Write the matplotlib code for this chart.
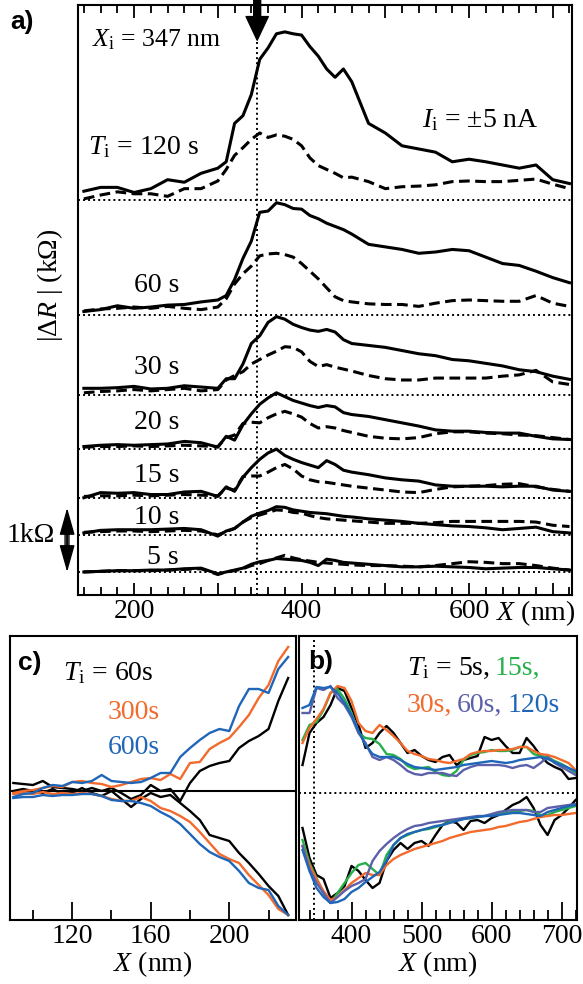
import numpy as np
import matplotlib
matplotlib.use('Agg')
import matplotlib.pyplot as plt
import matplotlib.transforms as mtransforms
from matplotlib.ticker import MultipleLocator, FixedLocator, FuncFormatter

# --- 1. DATA ---

# panel a) |dR| vs X, one solid + one dashed trace per injection time (kOhm above its baseline)
XA = [140, 160, 180, 200, 220, 240, 260, 280, 300,
      310, 320, 330, 340, 350, 360, 370, 380, 390, 400, 410, 420, 430, 440, 450, 460,
      480, 500, 520, 540, 560, 580, 600, 620, 640, 660, 680, 700, 720]

TIME_LABELS = ['5 s', '10 s', '15 s', '20 s', '30 s', '60 s', '120 s']
BASELINES = [0.0, 0.58, 1.16, 1.92, 2.77, 4.02, 5.81]

SOLID_5 = [0.0, 0.01, 0.02, 0.02, 0.03, 0.03, 0.05, 0.06, -0.03,
           0.0, 0.03, 0.06, 0.12, 0.16, 0.18, 0.21, 0.2, 0.19, 0.18, 0.15, 0.1, 0.2, 0.18, 0.15, 0.14,
           0.12, 0.1, 0.08, 0.08, 0.09, 0.08, 0.07, 0.05, 0.06, 0.07, 0.07, 0.05, 0.03]
DASH_5 = [0.0, 0.01, 0.02, 0.02, 0.02, 0.03, 0.04, 0.05, -0.04,
          0.0, 0.02, 0.05, 0.1, 0.13, 0.18, 0.22, 0.26, 0.22, 0.19, 0.17, 0.15, 0.14, 0.13, 0.12, 0.11,
          0.1, 0.1, 0.09, 0.08, 0.1, 0.13, 0.16, 0.15, 0.13, 0.13, 0.1, 0.06, 0.03]
SOLID_10 = [0.03, 0.07, 0.08, 0.08, 0.08, 0.09, 0.1, 0.08, -0.02,
            0.06, 0.1, 0.2, 0.29, 0.34, 0.38, 0.44, 0.43, 0.39, 0.37, 0.35, 0.34, 0.33, 0.31, 0.29, 0.28,
            0.25, 0.23, 0.21, 0.18, 0.16, 0.14, 0.13, 0.11, 0.08, 0.1, 0.12, 0.05, 0.03]
DASH_10 = [0.04, 0.05, 0.06, 0.06, 0.05, 0.06, 0.07, 0.06, 0.0,
           0.05, 0.1, 0.2, 0.27, 0.31, 0.35, 0.39, 0.38, 0.35, 0.34, 0.3, 0.27, 0.25, 0.24, 0.23, 0.22,
           0.2, 0.18, 0.18, 0.18, 0.19, 0.21, 0.21, 0.21, 0.21, 0.21, 0.2, 0.15, 0.13]
SOLID_15 = [0.0, 0.08, 0.07, 0.08, 0.05, 0.05, 0.09, 0.1, 0.02,
            0.17, 0.1, 0.32, 0.47, 0.6, 0.7, 0.76, 0.66, 0.6, 0.55, 0.51, 0.47, 0.58, 0.52, 0.43, 0.4,
            0.36, 0.31, 0.28, 0.26, 0.2, 0.18, 0.18, 0.18, 0.17, 0.18, 0.18, 0.12, 0.1]
DASH_15 = [0.02, 0.03, 0.03, 0.04, 0.03, 0.04, 0.05, 0.04, 0.03,
           0.15, 0.12, 0.33, 0.34, 0.34, 0.4, 0.47, 0.52, 0.45, 0.34, 0.28, 0.25, 0.24, 0.22, 0.2, 0.18,
           0.15, 0.12, 0.09, 0.08, 0.13, 0.17, 0.18, 0.19, 0.21, 0.22, 0.17, 0.13, 0.1]
SOLID_20 = [0.04, 0.06, 0.07, 0.06, 0.07, 0.08, 0.12, 0.1, 0.03,
            0.2, 0.14, 0.38, 0.55, 0.7, 0.8, 0.88, 0.82, 0.76, 0.72, 0.68, 0.65, 0.68, 0.66, 0.57, 0.54,
            0.51, 0.46, 0.41, 0.36, 0.3, 0.28, 0.28, 0.26, 0.25, 0.25, 0.2, 0.16, 0.15]
DASH_20 = [0.03, 0.04, 0.04, 0.05, 0.04, 0.05, 0.06, 0.05, 0.04,
           0.18, 0.22, 0.4, 0.42, 0.41, 0.49, 0.55, 0.59, 0.55, 0.5, 0.4, 0.33, 0.35, 0.33, 0.29, 0.26,
           0.2, 0.17, 0.16, 0.18, 0.24, 0.27, 0.27, 0.25, 0.24, 0.22, 0.21, 0.18, 0.15]
SOLID_30 = [0.1, 0.1, 0.11, 0.13, 0.09, 0.1, 0.14, 0.12, 0.1,
            0.25, 0.25, 0.48, 0.8, 0.92, 1.13, 1.22, 1.18, 1.1, 1.05, 1.01, 0.99, 1.02, 0.98, 0.86, 0.8,
            0.77, 0.74, 0.69, 0.64, 0.61, 0.55, 0.53, 0.49, 0.45, 0.39, 0.36, 0.29, 0.24]
DASH_30 = [0.03, 0.05, 0.06, 0.08, 0.06, 0.08, 0.1, 0.06, 0.08,
           0.23, 0.3, 0.36, 0.48, 0.55, 0.62, 0.68, 0.75, 0.74, 0.67, 0.52, 0.44, 0.47, 0.43, 0.4, 0.37,
           0.3, 0.25, 0.23, 0.23, 0.26, 0.26, 0.26, 0.26, 0.29, 0.31, 0.38, 0.2, 0.16]
SOLID_60 = [0.05, 0.08, 0.14, 0.1, 0.12, 0.15, 0.16, 0.2, 0.23,
            0.3, 0.55, 0.88, 1.15, 1.6, 1.62, 1.75, 1.72, 1.66, 1.65, 1.55, 1.5, 1.43, 1.38, 1.33, 1.26,
            1.1, 1.06, 1.02, 0.96, 0.98, 1.02, 1.0, 0.9, 0.8, 0.77, 0.68, 0.58, 0.5]
DASH_60 = [0.06, 0.09, 0.1, 0.12, 0.1, 0.13, 0.1, 0.08, 0.12,
           0.25, 0.48, 0.64, 0.76, 0.92, 0.95, 0.96, 0.94, 0.9, 0.8, 0.68, 0.56, 0.42, 0.28, 0.22, 0.2,
           0.17, 0.16, 0.16, 0.13, 0.18, 0.22, 0.23, 0.22, 0.21, 0.21, 0.3, 0.18, 0.13]
SOLID_120 = [0.14, 0.2, 0.2, 0.12, 0.18, 0.32, 0.28, 0.42, 0.5,
             0.6, 1.2, 1.32, 1.65, 2.2, 2.38, 2.6, 2.63, 2.6, 2.58, 2.4, 2.25, 2.05, 1.92, 2.05, 1.85,
             1.2, 1.05, 0.85, 0.8, 0.75, 0.6, 0.64, 0.6, 0.55, 0.5, 0.55, 0.32, 0.26]
DASH_120 = [0.02, 0.08, 0.13, 0.1, 0.1, 0.06, 0.18, 0.18, 0.3,
            0.48, 0.7, 0.82, 0.95, 1.05, 0.98, 1.02, 1.0, 0.95, 0.85, 0.66, 0.54, 0.48, 0.42, 0.35, 0.36,
            0.29, 0.18, 0.21, 0.22, 0.24, 0.29, 0.3, 0.29, 0.29, 0.31, 0.33, 0.25, 0.18]

SOLIDS = [SOLID_5, SOLID_10, SOLID_15, SOLID_20, SOLID_30, SOLID_60, SOLID_120]
DASHES = [DASH_5, DASH_10, DASH_15, DASH_20, DASH_30, DASH_60, DASH_120]

XI = 347  # injection position (nm)

# panel c) near the left end, T_i = 60 s, 300 s, 600 s (upper / lower branch, arb. units)
XC = [90, 95, 100, 105, 110, 115, 120, 125, 130, 135, 140, 145, 150, 155, 160,
      165, 170, 175, 180, 185, 190, 195, 200, 205, 210, 215, 220, 225, 230]
C_60_UP = [0.08, 0.07, 0.06, 0.1, 0.04, 0.03, 0.02, 0.0, 0.03, 0.0, 0.03, -0.02, -0.08, -0.04, 0.06,
           0.0, 0.02, -0.1, 0.08, 0.2, 0.25, 0.28, 0.3, 0.43, 0.5, 0.55, 0.62, 0.9, 1.13]
C_60_DN = [0.0, 0.02, 0.0, -0.02, 0.02, -0.03, -0.02, 0.03, -0.02, -0.05, 0.0, -0.08, -0.16, -0.08, -0.02,
           -0.06, -0.04, -0.12, -0.2, -0.29, -0.44, -0.47, -0.5, -0.62, -0.72, -0.83, -0.95, -1.05, -1.24]
C_300_UP = [-0.02, 0.0, 0.01, 0.03, 0.05, 0.04, 0.09, 0.1, 0.08, 0.07, 0.04, 0.06, 0.09, 0.12, 0.13,
            0.11, 0.17, 0.12, 0.28, 0.29, 0.42, 0.48, 0.53, 0.64, 0.76, 0.93, 1.06, 1.3, 1.44]
C_300_DN = [-0.03, -0.02, -0.03, -0.01, -0.03, -0.02, -0.03, -0.02, -0.03, -0.05, -0.08, -0.1, -0.1, -0.06, -0.1,
            -0.17, -0.2, -0.25, -0.31, -0.41, -0.52, -0.63, -0.68, -0.72, -0.84, -0.94, -1.04, -1.18, -1.24]
C_600_UP = [-0.06, -0.03, -0.02, 0.03, 0.06, 0.05, 0.09, 0.08, 0.1, 0.16, 0.1, 0.09, 0.08, 0.09, 0.13,
            0.18, 0.18, 0.34, 0.43, 0.51, 0.58, 0.62, 0.6, 0.85, 1.02, 1.02, 0.98, 1.22, 1.34]
C_600_DN = [-0.07, -0.06, -0.06, -0.04, -0.05, -0.04, -0.04, -0.03, -0.03, -0.05, -0.09, -0.1, -0.1, -0.12, -0.15,
            -0.21, -0.26, -0.33, -0.43, -0.53, -0.61, -0.66, -0.7, -0.8, -0.92, -0.97, -0.99, -1.15, -1.24]

# panel b) normalised traces, T_i = 5, 15, 30, 60, 120 s (upper / lower branch)
XB = [330, 340, 350, 360, 370, 380, 390, 400, 410, 420, 430, 440, 450, 460, 470, 480, 490, 500, 510, 520,
      530, 540, 550, 560, 570, 580, 590, 600, 610, 620, 630, 640, 650, 660, 670, 680, 690, 700, 710, 720]
B_5_UP = [0.28, 0.6, 0.7, 0.76, 0.88, 1.05, 1.02, 0.85, 0.68, 0.45, 0.5, 0.6, 0.67, 0.6, 0.5, 0.4, 0.43, 0.37, 0.33, 0.31,
          0.36, 0.38, 0.28, 0.33, 0.35, 0.37, 0.56, 0.53, 0.55, 0.47, 0.4, 0.4, 0.55, 0.47, 0.37, 0.3, 0.26, 0.23, 0.14, 0.15]
B_15_UP = [0.53, 0.68, 0.71, 0.83, 1.0, 1.04, 0.94, 0.8, 0.6, 0.55, 0.54, 0.49, 0.39, 0.38, 0.34, 0.27, 0.24, 0.25, 0.26, 0.21,
           0.18, 0.17, 0.22, 0.33, 0.38, 0.4, 0.41, 0.43, 0.42, 0.42, 0.43, 0.46, 0.46, 0.39, 0.37, 0.36, 0.32, 0.29, 0.25, 0.2]
B_30_UP = [0.5, 0.65, 0.74, 0.84, 1.0, 1.07, 1.05, 0.92, 0.7, 0.62, 0.6, 0.68, 0.63, 0.57, 0.5, 0.42, 0.39, 0.37, 0.34, 0.33,
           0.31, 0.3, 0.32, 0.34, 0.39, 0.41, 0.42, 0.42, 0.43, 0.43, 0.44, 0.46, 0.46, 0.42, 0.39, 0.38, 0.36, 0.33, 0.3, 0.23]
B_60_UP = [0.8, 0.8, 1.05, 1.03, 1.07, 0.95, 0.88, 0.76, 0.6, 0.5, 0.36, 0.33, 0.36, 0.33, 0.28, 0.22, 0.19, 0.18, 0.2, 0.2,
           0.2, 0.18, 0.17, 0.23, 0.26, 0.28, 0.28, 0.28, 0.28, 0.27, 0.25, 0.27, 0.28, 0.25, 0.3, 0.36, 0.3, 0.26, 0.22, 0.18]
B_120_UP = [0.85, 0.88, 1.06, 1.05, 1.06, 1.0, 0.9, 0.78, 0.62, 0.48, 0.39, 0.36, 0.36, 0.36, 0.33, 0.29, 0.26, 0.25, 0.24, 0.23,
            0.24, 0.25, 0.26, 0.28, 0.29, 0.3, 0.31, 0.32, 0.31, 0.3, 0.31, 0.33, 0.34, 0.35, 0.36, 0.34, 0.31, 0.28, 0.25, 0.22]
B_5_DN = [-0.35, -0.65, -0.82, -0.86, -1.05, -1.0, -0.93, -0.73, -0.78, -0.87, -0.95, -0.9, -0.68, -0.57, -0.5, -0.56, -0.5, -0.48, -0.53, -0.42,
          -0.32, -0.28, -0.3, -0.37, -0.28, -0.27, -0.3, -0.25, -0.22, -0.17, -0.12, -0.09, -0.04, -0.15, -0.32, -0.42, -0.27, -0.22, -0.15, -0.07]
B_15_DN = [-0.47, -0.7, -0.85, -1.0, -1.1, -1.0, -0.9, -0.8, -0.72, -0.7, -0.76, -0.82, -0.62, -0.52, -0.45, -0.42, -0.39, -0.37, -0.36, -0.34,
           -0.32, -0.29, -0.27, -0.26, -0.25, -0.24, -0.23, -0.22, -0.2, -0.2, -0.19, -0.18, -0.17, -0.18, -0.22, -0.22, -0.19, -0.17, -0.15, -0.13]
B_30_DN = [-0.53, -0.72, -0.86, -0.98, -1.07, -1.04, -0.97, -0.9, -0.85, -0.8, -0.82, -0.82, -0.72, -0.66, -0.62, -0.59, -0.56, -0.54, -0.52, -0.5,
           -0.48, -0.45, -0.43, -0.41, -0.39, -0.38, -0.37, -0.36, -0.34, -0.33, -0.31, -0.29, -0.28, -0.26, -0.24, -0.23, -0.22, -0.22, -0.21, -0.2]
B_60_DN = [-0.53, -0.76, -0.9, -1.0, -1.1, -1.04, -0.98, -0.93, -0.9, -0.86, -0.68, -0.58, -0.51, -0.45, -0.4, -0.36, -0.33, -0.32, -0.3, -0.29,
           -0.28, -0.27, -0.26, -0.25, -0.24, -0.23, -0.23, -0.21, -0.19, -0.18, -0.17, -0.17, -0.17, -0.19, -0.19, -0.15, -0.14, -0.13, -0.12, -0.11]
B_120_DN = [-0.57, -0.78, -0.95, -1.04, -1.1, -1.09, -1.06, -0.99, -0.95, -0.89, -0.84, -0.79, -0.68, -0.52, -0.45, -0.41, -0.39, -0.37, -0.35, -0.33,
            -0.32, -0.3, -0.28, -0.26, -0.25, -0.24, -0.23, -0.23, -0.22, -0.21, -0.2, -0.2, -0.21, -0.22, -0.23, -0.19, -0.17, -0.15, -0.13, -0.12]

# --- 2. STYLE ---
ORANGE = '#f26a2c'
BLUE = '#1f66b8'
PURPLE = '#5c60aa'
GREEN = '#25b04a'
FS = 20          # annotation text
FS_TICK = 20     # tick labels and axis labels

plt.rcParams['font.family'] = ['Liberation Serif', 'DejaVu Serif']
plt.rcParams['mathtext.fontset'] = 'custom'
plt.rcParams['mathtext.rm'] = 'Liberation Serif'
plt.rcParams['mathtext.it'] = 'Liberation Serif:italic'
plt.rcParams['axes.linewidth'] = 1.5

DOT = (0, (1, 1.6))


def colored_line(ax, x, y, parts, gap=5):
    """Write text pieces of different colours one after the other."""
    renderer = ax.figure.canvas.get_renderer()
    inv = ax.transAxes.inverted()
    for text, color in parts:
        t = ax.text(x, y, text, color=color, fontsize=FS, ha='left', va='center',
                    transform=ax.transAxes)
        bb = t.get_window_extent(renderer=renderer)
        x = inv.transform((bb.x1 + gap, bb.y0))[0]


def bottom_ticks(axis, major_len, minor_len):
    axis.tick_params(axis='x', which='both', direction='in', labelsize=FS_TICK, width=1.3, pad=3)
    axis.tick_params(axis='x', which='major', length=major_len)
    axis.tick_params(axis='x', which='minor', length=minor_len)
    axis.tick_params(axis='y', left=False, labelleft=False)


fig = plt.figure(figsize=(5.83, 9.84), dpi=100)

# --- 3. PANEL a) ---
ax = fig.add_axes([78 / 583, 1 - 595 / 984, 494 / 583, 590 / 984])
xa = np.array(XA)
for base, sol, das in zip(BASELINES, SOLIDS, DASHES):
    ax.axhline(base, color='black', lw=1.4, ls=DOT)
    ax.plot(xa, base + np.array(das), color='black', lw=2.2, dashes=(3.5, 1.8))
    ax.plot(xa, base + np.array(sol), color='black', lw=2.2)
ax.axvline(XI, color='black', lw=1.4, ls=DOT)
ax.set_xlim(133, 723)
ax.set_ylim(-0.36, 8.86)
ax.xaxis.set_major_locator(MultipleLocator(100))
ax.xaxis.set_minor_locator(MultipleLocator(20))
ax.xaxis.set_major_formatter(FuncFormatter(
    lambda v, p: f'{v:.0f}' if int(round(v)) in (200, 400, 600) else ''))
bottom_ticks(ax, 9, 5.5)
ax.tick_params(axis='x', which='both', top=True)

# arrow marking X_i
ax.annotate('', xy=(XI, 8.31), xytext=(XI, 8.95), xycoords='data',
            arrowprops=dict(facecolor='black', edgecolor='black', width=5,
                            headwidth=16, headlength=17, shrink=0),
            annotation_clip=False)

ax.text(0.028, 0.941, r'$X_{\mathrm{i}}$ = 347 nm', fontsize=18.5, va='center', transform=ax.transAxes)
ax.text(0.02, 0.759, r'$T_{\mathrm{i}}$ = 120 s', fontsize=FS, va='center', transform=ax.transAxes)
ax.text(0.696, 0.805, r'$I_{\mathrm{i}}$ = ±5 nA', fontsize=FS, va='center', transform=ax.transAxes)
for lab, yy in zip(TIME_LABELS[:-1], [0.064, 0.132, 0.203, 0.293, 0.385, 0.525]):
    ax.text(0.2045, yy, lab, fontsize=FS, ha='right', va='center', transform=ax.transAxes)
ax.text(0.847, -0.031, r'$X$ (nm)', fontsize=FS_TICK, ha='left', va='center', transform=ax.transAxes)

# 1 kOhm scale bar: grey shaft with two long black heads
bar = mtransforms.blended_transform_factory(ax.transAxes, ax.transData)
ax.plot([-0.022, -0.022], [0.25, 0.75], transform=bar, color='#3a3a3a', lw=4,
        solid_capstyle='butt', clip_on=False)
ax.annotate('', xy=(-0.022, 0.0), xytext=(-0.022, 1.0), xycoords=('axes fraction', 'data'),
            arrowprops=dict(arrowstyle='<|-|>,head_length=0.85,head_width=0.24',
                            mutation_scale=20, lw=1, color='black',
                            shrinkA=0, shrinkB=0),
            annotation_clip=False)
fig.text(55 / 583, 1 - 535 / 984, '1kΩ', fontsize=FS, ha='right', va='center')
fig.text(50 / 583, 1 - 285 / 984, r'|$\mathit{\Delta R}$ | (kΩ)', fontsize=FS,
         rotation=90, ha='center', va='center')
fig.text(10 / 583, 1 - 22 / 984, 'a)', fontsize=19, fontweight='bold',
         family='Liberation Sans', va='center')

# --- 4. PANEL c) ---
axc = fig.add_axes([10 / 583, 1 - 920 / 984, 286 / 583, 284 / 984])
xc = np.array(XC)
axc.axhline(0, color='black', lw=1.5)
for up, dn, col in [(C_60_UP, C_60_DN, 'black'), (C_300_UP, C_300_DN, ORANGE),
                    (C_600_UP, C_600_DN, BLUE)]:
    axc.plot(xc, up, color=col, lw=1.7)
    axc.plot(xc, dn, color=col, lw=1.7)
axc.set_xlim(88.3, 234)
axc.set_ylim(-1.29, 1.55)
axc.xaxis.set_major_locator(FixedLocator([120, 160, 200]))
axc.xaxis.set_minor_locator(FixedLocator([100, 140, 180, 220]))
bottom_ticks(axc, 13, 7)
axc.set_xlabel(r'$X$ (nm)', fontsize=FS_TICK, labelpad=0)
axc.text(0.028, 0.905, 'c)', fontsize=19, fontweight='bold', family='Liberation Sans',
         va='center', transform=axc.transAxes)
axc.text(0.185, 0.87, r'$T_{\mathrm{i}}$ = 60s', fontsize=FS, va='center', transform=axc.transAxes)
axc.text(0.341, 0.729, '300s', fontsize=FS, color=ORANGE, va='center', transform=axc.transAxes)
axc.text(0.341, 0.609, '600s', fontsize=FS, color=BLUE, va='center', transform=axc.transAxes)

# --- 5. PANEL b) ---
axb = fig.add_axes([299 / 583, 1 - 920 / 984, 278 / 583, 284 / 984])
xb = np.array(XB)
axb.axhline(0, color='black', lw=1.4, ls=DOT)
axb.axvline(XI, color='black', lw=1.4, ls=DOT)
for up, dn, col in [(B_5_UP, B_5_DN, 'black'), (B_15_UP, B_15_DN, GREEN),
                    (B_30_UP, B_30_DN, ORANGE), (B_60_UP, B_60_DN, PURPLE),
                    (B_120_UP, B_120_DN, BLUE)]:
    axb.plot(xb, up, color=col, lw=1.7)
    axb.plot(xb, dn, color=col, lw=1.7)
axb.set_xlim(325, 722)
axb.set_ylim(-1.27, 1.57)
axb.xaxis.set_major_locator(MultipleLocator(100))
axb.xaxis.set_minor_locator(MultipleLocator(20))
bottom_ticks(axb, 13, 7)
axb.set_xlabel(r'$X$ (nm)', fontsize=FS_TICK, labelpad=0)
axb.text(0.032, 0.908, 'b)', fontsize=19, fontweight='bold', family='Liberation Sans',
         va='center', transform=axb.transAxes)
colored_line(axb, 0.388, 0.887, [(r'$T_{\mathrm{i}}$ = 5s,', 'black'), ('15s,', GREEN)])
colored_line(axb, 0.388, 0.754, [('30s,', ORANGE), ('60s,', PURPLE), ('120s', BLUE)])

fig.savefig('out.png', dpi=100)
